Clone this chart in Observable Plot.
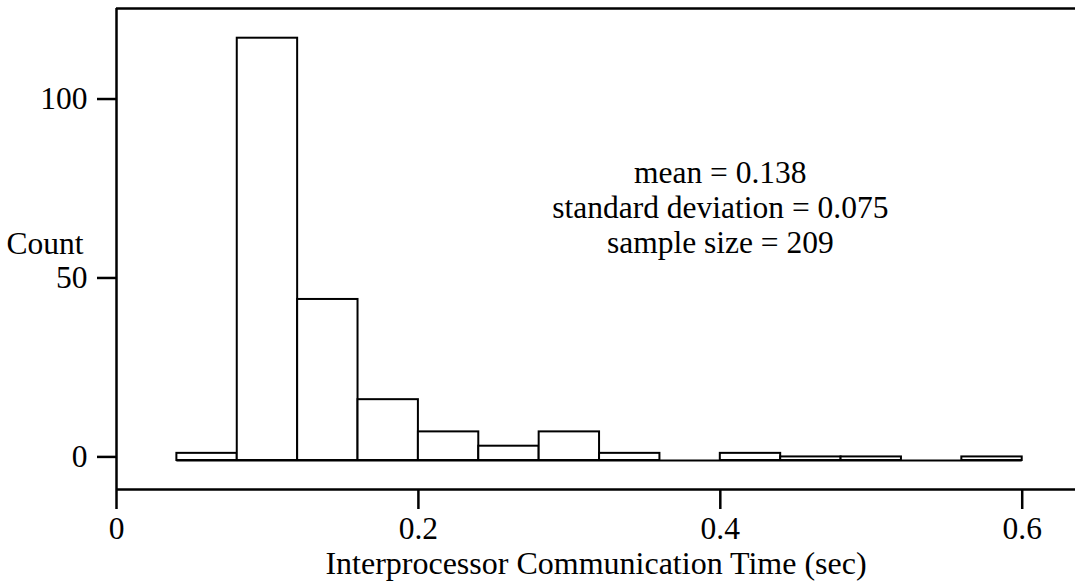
<!DOCTYPE html>
<html>
<head>
<meta charset="utf-8">
<script src="https://cdn.jsdelivr.net/npm/d3@7"></script>
<script src="https://cdn.jsdelivr.net/npm/@observablehq/plot@0.6"></script>
<style>
  html, body { margin: 0; padding: 0; background: #fff; }
  svg { display: block; }
</style>
</head>
<body>
<div id="chart"></div>
<script>
// Histogram bins (seconds) and counts
const binStart = [0.04, 0.08, 0.12, 0.16, 0.20, 0.24, 0.28, 0.32, 0.36, 0.40, 0.44, 0.48, 0.52, 0.56];
const binEnd   = [0.08, 0.12, 0.16, 0.20, 0.24, 0.28, 0.32, 0.36, 0.40, 0.44, 0.48, 0.52, 0.56, 0.60];
const counts   = [2, 118, 45, 17, 8, 4, 8, 2, 0, 2, 1, 1, 0, 1];

const xTicks = [0, 0.2, 0.4, 0.6];
const yTicks = [0, 50, 100];
const xDomain = [0, 0.6353];
const yDomain = [-8.1, 126.3];

const xLabel = "Interprocessor Communication Time (sec)";
const yLabel = "Count";
const statsLines = ["mean = 0.138", "standard deviation = 0.075", "sample size = 209"];

const bins = counts.map((c, i) => ({x1: binStart[i], x2: binEnd[i], count: c}));
const font = '"Liberation Serif", "Times New Roman", Times, serif';

const chart = Plot.plot({
  width: 1075,
  height: 585,
  marginLeft: 116,
  marginRight: 0,
  marginTop: 8,
  marginBottom: 96,
  style: {fontFamily: font, fontSize: "31.5px", color: "#000", background: "#fff"},
  x: {domain: xDomain},
  y: {domain: yDomain},
  marks: [
    // baseline at zero across the binned range
    Plot.ruleY([0], {x1: binStart[0], x2: binEnd[binEnd.length - 1], stroke: "#000", strokeWidth: 2}),
    // bars
    Plot.rect(bins.filter(d => d.count > 0), {
      x1: "x1", x2: "x2", y1: 0, y2: "count",
      fill: "#fff", stroke: "#000", strokeWidth: 2
    }),
    // frame: left, top, bottom (right side runs past the picture)
    Plot.ruleX([xDomain[0]], {stroke: "#000", strokeWidth: 2.5}),
    Plot.ruleY(yDomain, {stroke: "#000", strokeWidth: 2.5}),
    // axes
    Plot.axisY(yTicks, {
      tickSize: 19, tickPadding: 10, strokeWidth: 2.5, fontSize: 31.5, dy: -3.6,
      label: null, fill: "#000"
    }),
    Plot.axisX(xTicks, {
      tickSize: 20, tickPadding: 7.6, strokeWidth: 2.5, fontSize: 31.5,
      label: null, fill: "#000", tickFormat: d => d === 0 ? "0" : d3.format(".1f")(d)
    }),
    // axis titles
    Plot.text([xLabel], {
      text: d => d, frameAnchor: "bottom", lineAnchor: "top", dy: 61.3,
      fontSize: 32, fill: "#000"
    }),
    Plot.text([yLabel], {
      text: d => d, frameAnchor: "left", y: 60.6, textAnchor: "end", dx: -33,
      fontSize: 31.5, fill: "#000"
    }),
    // summary statistics
    Plot.text([statsLines.join("\n")], {
      text: d => d, x: 0.4, y: 84.5, lineAnchor: "top", lineHeight: 1.111,
      textAnchor: "middle", fontSize: 31.5, fill: "#000"
    })
  ]
});

document.getElementById("chart").appendChild(chart);
</script>
</body>
</html>
